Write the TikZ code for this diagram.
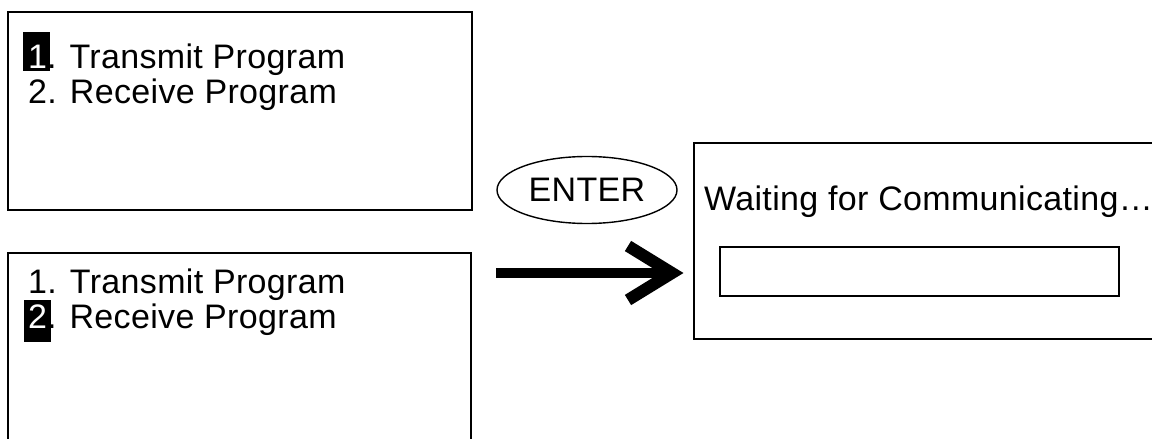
\documentclass[tikz,border=0pt]{standalone}
\usepackage{fontspec}
\setmainfont{Liberation Sans}[LetterSpace = 1.0]
\usetikzlibrary{shapes.geometric}

\begin{document}
\begin{tikzpicture}[x = 1pt, y = -1pt,
    screen/.style = {draw, line width = 2.4pt, inner sep = 0pt, anchor = north west},
    entry/.style  = {anchor = base west, inner sep = 0pt, font = \fontsize{34}{40}\selectfont}]
  \useasboundingbox (0,0) rectangle (1152,439);

  \node [screen, minimum width = 464pt, minimum height = 198pt] (menuA) at (7,11) {};
  \node [screen, minimum width = 463pt, minimum height = 220pt] (menuB) at (7,252) {};
  \node [screen, minimum width = 480pt, minimum height = 196pt] (wait) at (693,142) {};

  \fill (23,32) rectangle (50,71);
  \fill (24,300) rectangle (51,342);

  \foreach \y/\txt [count = \id] in {
    68/{\textcolor{white}{1}. Transmit Program},
    103/{2. Receive Program},
    293/{1. Transmit Program},
    328/{\textcolor{white}{2}. Receive Program}
  } \node [entry] (line\id) at (28,\y) {\txt};

  \node [entry] (msg) at (704,210) {Waiting for Communicating…};
  \node [screen, line width = 1.8pt, minimum width = 399pt, minimum height = 49pt]
        (bar) at (719,246) {};

  \node [shape = ellipse, draw, line width = 1.4pt, minimum width = 180pt,
        minimum height = 67pt, inner sep = 0pt, font = \fontsize{34}{40}\selectfont]
        (enter) at (587,190) {ENTER};

  \coordinate (tail) at (496,273);
  \coordinate (tip) at (672,273);
  \draw [line width = 10pt] (tail) -- (tip);
  \draw [line width = 12pt] ([shift = {(-44,-27)}]tip) -- (tip) -- ([shift = {(-44,27)}]tip);
\end{tikzpicture}
\end{document}
